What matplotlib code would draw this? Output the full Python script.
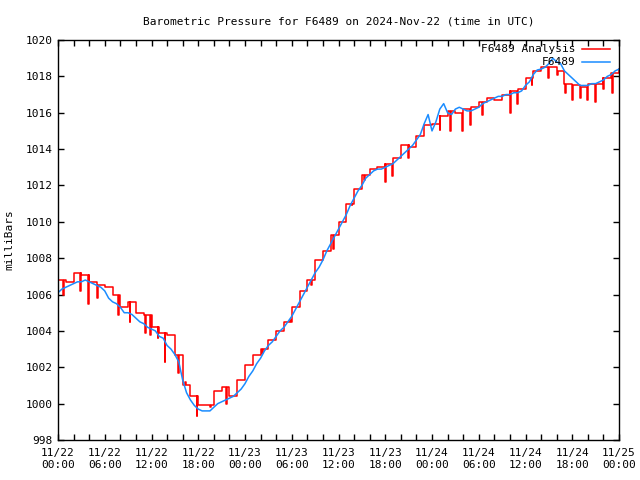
import numpy as np
import matplotlib
matplotlib.use("Agg")
import matplotlib.pyplot as plt

# ---- data ----
tick_labels = ["11/22\n00:00", "11/22\n06:00", "11/22\n12:00", "11/22\n18:00",
               "11/23\n00:00", "11/23\n06:00", "11/23\n12:00", "11/23\n18:00",
               "11/24\n00:00", "11/24\n06:00", "11/24\n12:00", "11/24\n18:00",
               "11/25\n00:00"]

# observed pressure, every 30 min from 11/22 00:00 (hours)
obs_step_h = 0.5
obs_values = [
    1006.1, 1006.3, 1006.4, 1006.5, 1006.6, 1006.7, 1006.7, 1006.8, 1006.7, 1006.6,
    1006.5, 1006.4, 1006.2, 1005.8, 1005.6, 1005.5, 1005.3, 1005.0, 1005.0, 1004.9,
    1004.7, 1004.5, 1004.4, 1004.2, 1004.1, 1004.0, 1003.7, 1003.6, 1003.2, 1003.0,
    1002.7, 1002.3, 1001.3, 1000.6, 1000.2, 999.9, 999.7, 999.6, 999.6, 999.6,
    999.8, 1000.0, 1000.1, 1000.2, 1000.3, 1000.4, 1000.6, 1000.8, 1001.1, 1001.5,
    1001.8, 1002.2, 1002.5, 1002.9, 1003.2, 1003.4, 1003.7, 1004.0, 1004.2, 1004.5,
    1004.8, 1005.2, 1005.6, 1006.0, 1006.4, 1006.8, 1007.2, 1007.5, 1007.9, 1008.4,
    1008.8, 1009.2, 1009.6, 1010.0, 1010.4, 1010.9, 1011.3, 1011.7, 1012.0, 1012.4,
    1012.6, 1012.8, 1012.9, 1012.9, 1013.0, 1013.1, 1013.2, 1013.4, 1013.6, 1013.8,
    1014.0, 1014.2, 1014.5, 1014.8, 1015.4, 1015.9, 1015.0, 1015.5, 1016.2, 1016.5,
    1016.0, 1015.9, 1016.2, 1016.3, 1016.2, 1016.1, 1016.1, 1016.2, 1016.3, 1016.5,
    1016.6, 1016.7, 1016.8, 1016.9, 1016.9, 1017.0, 1017.0, 1017.1, 1017.1, 1017.2,
    1017.5, 1017.7, 1018.1, 1018.35, 1018.4, 1018.5, 1018.7, 1019.0, 1018.8, 1018.7,
    1018.3, 1018.1, 1017.9, 1017.7, 1017.5, 1017.5, 1017.5, 1017.6, 1017.6, 1017.7,
    1017.8, 1018.0, 1018.1, 1018.3, 1018.4,
]

# analysis pressure, hourly (held for the hour)
ana_values = [
    1006.8, 1006.7, 1007.2, 1007.1, 1006.7, 1006.5, 1006.4, 1006.0, 1005.3, 1005.6,
    1005.0, 1004.9, 1004.2, 1003.9, 1003.8, 1002.7, 1001.0, 1000.4, 999.9, 999.9,
    1000.7, 1000.9, 1000.4, 1001.3, 1002.1, 1002.7, 1003.0, 1003.5, 1004.0, 1004.5,
    1005.3, 1006.2, 1006.8, 1007.9, 1008.4, 1009.3, 1010.0, 1011.0, 1011.8, 1012.6,
    1012.9, 1013.0, 1013.2, 1013.5, 1014.2, 1014.1, 1014.7, 1015.3, 1015.4, 1015.8,
    1016.1, 1016.0, 1016.2, 1016.3, 1016.6, 1016.8, 1016.7, 1017.0, 1017.2, 1017.3,
    1017.9, 1018.3, 1018.5, 1018.5, 1018.3, 1017.6, 1017.5, 1017.4, 1017.6, 1017.6,
    1017.9, 1018.2, 1018.4,
]

# brief downward dips in the analysis: (hour, value)
dip_hours = [0.64, 2.8, 3.85, 5.0, 7.7, 9.2, 11.2, 11.8, 12.8, 13.7, 15.4, 16.3,
             17.8, 19.5, 21.6, 26.2, 29.8, 31.8, 32.5, 35.3, 37.7, 39.3, 42.0,
             42.9, 44.9, 49.0, 50.3, 51.9, 52.9, 54.4, 58.0, 58.9, 60.8, 62.9,
             64.1, 65.1, 66.0, 67.0, 67.9, 68.9, 70.0, 71.1]
dip_values = [1006.0, 1006.2, 1005.5, 1005.8, 1004.9, 1004.5, 1003.9, 1003.8,
              1003.6, 1002.3, 1001.7, 1001.2, 999.3, 999.8, 1000.0, 1002.8,
              1004.6, 1006.2, 1006.5, 1008.5, 1010.9, 1012.3, 1012.2, 1012.5,
              1013.5, 1015.05, 1015.0, 1015.0, 1015.3, 1015.9, 1016.0, 1016.5,
              1017.5, 1017.9, 1018.05, 1017.1, 1016.7, 1016.8, 1016.7, 1016.6,
              1017.3, 1017.1]

# ---- build series ----
obs_t = np.arange(len(obs_values)) * obs_step_h
ana_t = np.arange(len(ana_values), dtype=float)

pts = [(t, v) for t, v in zip(ana_t, ana_values)]
dip_w = 0.09
for t, v in zip(dip_hours, dip_values):
    hold = ana_values[int(np.floor(t))]
    pts.append((t, v))
    pts.append((t + dip_w, hold))
pts.sort(key=lambda p: p[0])
red_t = [p[0] for p in pts]
red_v = [p[1] for p in pts]

# ---- plot ----
plt.rcParams['font.family'] = ['DejaVu Sans Mono']
fig = plt.figure(figsize=(6.4, 4.8), dpi=100)
ax = fig.add_axes([58/640, 40/480, (619-58)/640, 400/480])

ax.plot(red_t, red_v, drawstyle='steps-post', color='#ff0000', lw=1.1)
ax.plot(obs_t, obs_values, color='#1a8cff', lw=1.1)

ax.set_xlim(0, 72)
ax.set_ylim(998, 1020)
ax.set_xticks(np.arange(0, 73, 6))
ax.set_xticklabels(tick_labels)
ax.set_xticks(np.arange(0, 73, 2), minor=True)
ax.set_yticks(np.arange(998, 1021, 2))
ax.tick_params(which='both', direction='in', top=True, right=True,
               labelsize=8, length=4, width=1, pad=4)
ax.tick_params(axis='x', which='major', pad=6)
for s in ax.spines.values():
    s.set_linewidth(1)

ax.set_title("Barometric Pressure for F6489 on 2024-Nov-22 (time in UTC)",
             fontsize=8, pad=11)
ax.set_ylabel("milliBars", fontsize=8, labelpad=8)

# legend (text right-aligned, sample after text)
leg_items = [("F6489 Analysis", '#ff0000', 0.9775), ("F6489", '#1a8cff', 0.945)]
for label, col, yy in leg_items:
    ax.text(0.922, yy, label, transform=ax.transAxes, ha='right', va='center',
            fontsize=8)
    ax.plot([0.934, 0.984], [yy, yy], transform=ax.transAxes, color=col, lw=1.1)

fig.savefig("out.png", dpi=100)
